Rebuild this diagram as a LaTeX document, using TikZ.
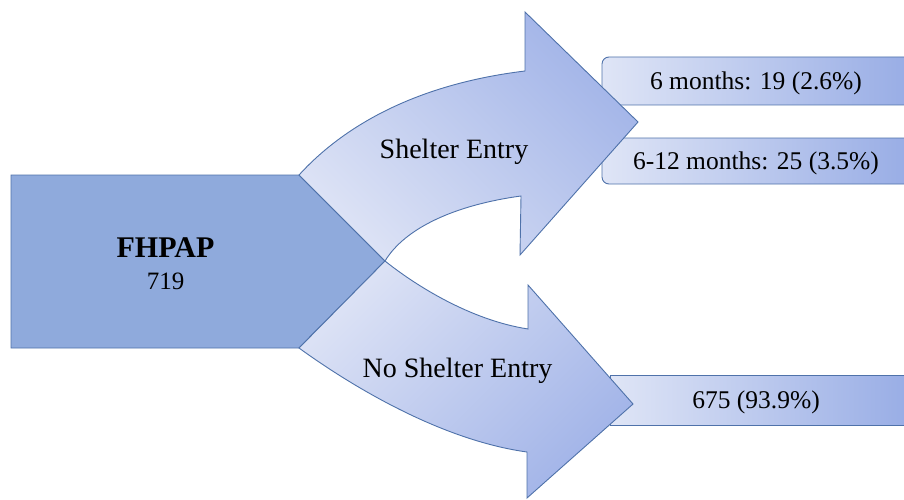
\documentclass[tikz,border=0pt]{standalone}
\usepackage{fontspec}
\setmainfont{Liberation Serif}
\begin{document}
\begin{tikzpicture}[x=1pt,y=-1pt,
  edge/.style={draw=edgeblue,line width=0.9pt},
  outbox/.style={edge,left color=boxlight,right color=boxdark},
  flow/.style={edge,left color=arrowlight,right color=arrowdark},
  bigtxt/.style={font=\fontsize{28}{30}\selectfont,inner sep=0pt},
  smalltxt/.style={font=\fontsize{25.5}{28}\selectfont,inner sep=0pt}]
\definecolor{edgeblue}{HTML}{4F72AA}
\definecolor{srcfill}{HTML}{8FAADC}
\definecolor{boxlight}{HTML}{DFE5F6}
\definecolor{boxdark}{HTML}{97ACE5}
\definecolor{arrowlight}{HTML}{DCE2F5}
\definecolor{arrowdark}{HTML}{A2B4E8}
\useasboundingbox (0,0) rectangle (904,500);
% output boxes
\begin{scope}
\clip (0,0) rectangle (904,500);
\path[outbox,rounded corners=7pt] (915,57) -- (602,57) -- (602,105) -- (915,105);
\path[outbox,rounded corners=7pt] (915,138) -- (602,138) -- (602,184) -- (915,184);
\path[outbox] (915,375) -- (610,375) -- (610,425) -- (915,425);
\end{scope}
% source pentagon
\coordinate (tl) at (299,175);
\coordinate (pt) at (385,261);
\coordinate (bl) at (299,348);
\path[edge,fill=srcfill] (11,175) -- (tl) -- (pt) -- (bl) -- (11,348) -- cycle;
% upper arrow
\path[flow,shading angle=135] (tl) .. controls (340,130) and (410,85) .. (525,71) -- (525,12) -- (638,122)
  -- (520,255) -- (521,196) .. controls (455,205) and (405,228) .. (pt) -- cycle;
% lower arrow
\path[flow,shading angle=45] (pt) .. controls (415,285) and (470,320) .. (528,329) -- (528,285) -- (633,404)
  -- (527,498) -- (527,452) .. controls (440,440) and (350,385) .. (bl) -- cycle;
% texts
\node[font=\fontsize{30}{32}\selectfont\bfseries,inner sep=0pt] (src) at (165.5,248) {FHPAP};
\node[font=\fontsize{25}{27}\selectfont,inner sep=0pt] (srcn) at (165.5,281) {719};
\node[bigtxt] (sh) at (454,152) {Shelter Entry};
\node[bigtxt] (nosh) at (457.5,371) {No Shelter Entry};
\node[smalltxt] (o1) at (756,83) {6 months: 19 (2.6\%)};
\node[smalltxt] (o2) at (756,163) {6-12 months: 25 (3.5\%)};
\node[smalltxt] (o3) at (756,402) {675 (93.9\%)};
\end{tikzpicture}
\end{document}
